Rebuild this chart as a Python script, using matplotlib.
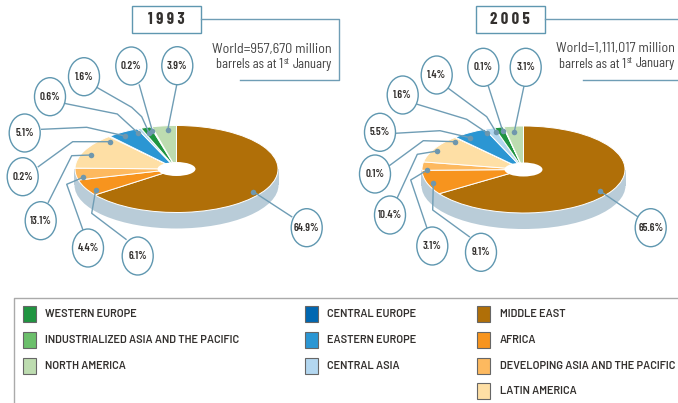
import matplotlib
matplotlib.use('Agg')
import matplotlib.pyplot as plt
from matplotlib.patches import Ellipse, Rectangle

# values, clockwise from 12 o'clock
regions = ['Middle East', 'Africa', 'Developing Asia', 'Latin America', 'Central Europe',
           'Eastern Europe', 'Central Asia', 'Western Europe', 'Industrialized Asia', 'North America']
values_1993 = [64.9, 6.1, 4.4, 13.1, 0.2, 5.1, 0.6, 1.6, 0.2, 3.9]
values_2005 = [65.6, 9.1, 3.1, 10.4, 0.1, 5.5, 1.6, 1.4, 0.1, 3.1]
colors = ['#b06f08', '#f7941e', '#fdb95f', '#fedfa5', '#0067b1',
          '#2b96d3', '#b3d7f0', '#1f9440', '#6bbf6b', '#bddcb0']

legend_labels = [['WESTERN EUROPE', 'INDUSTRIALIZED ASIA AND THE PACIFIC', 'NORTH AMERICA'],
                 ['CENTRAL EUROPE', 'EASTERN EUROPE', 'CENTRAL ASIA'],
                 ['MIDDLE EAST', 'AFRICA', 'DEVELOPING ASIA AND THE PACIFIC', 'LATIN AMERICA']]
legend_colors = [['#1f9440', '#6bbf6b', '#bddcb0'],
                 ['#0067b1', '#2b96d3', '#b3d7f0'],
                 ['#b06f08', '#f7941e', '#fdb95f', '#fedfa5']]

W, H = 678, 403
NARROW = ['Barlow Condensed', 'Liberation Sans', 'DejaVu Sans']
SEMI = ['Barlow Semi Condensed', 'Liberation Sans', 'DejaVu Sans']
WIDE = ['Barlow', 'Liberation Sans', 'DejaVu Sans']
LINE = '#6f9db5'
EDGE = '#5f97b0'
TEXT = '#33302e'

fig = plt.figure(figsize=(W / 100, H / 100), dpi=100)


def draw_pie(values, cx, cy, rx, ry, hole, depth):
    ax = fig.add_axes([(cx - rx) / W, 1 - (cy + ry) / H, 2 * rx / W, 2 * ry / H], zorder=2)
    ax.pie(values, colors=colors, startangle=90, counterclock=False, radius=1,
           wedgeprops={'edgecolor': 'white', 'linewidth': 0.7})
    ax.set_aspect('auto')
    ax.set_xlim(-1, 1)
    ax.set_ylim(-1, 1)
    d = depth / ry
    ax.add_patch(Ellipse((0, -d), 2.01, 2, fc='#b9ccd8', ec='none', zorder=0, clip_on=False))
    ax.add_patch(Rectangle((-1.005, -d), 2.01, d, fc='#b9ccd8', ec='none', zorder=0, clip_on=False))
    ax.add_patch(Ellipse(hole, 38 / rx, 14 / ry, fc='white', ec='none', zorder=5, clip_on=False))


draw_pie(values_1993, 176.5, 169, 101.5, 43.5, (0, 0), 16)
draw_pie(values_2005, 523.5, 169.5, 101.5, 43.5, (0, 0), 16)

# overlay in pixel coordinates
ov = fig.add_axes([0, 0, 1, 1], zorder=3)
ov.set_xlim(0, W)
ov.set_ylim(H, 0)
ov.axis('off')
ov.patch.set_alpha(0)

# bubble centre and leader path (dot first), read in px
bubbles_1993 = [(306.7, 227.7), (137.7, 256), (88, 248), (40.7, 220.7), (22.7, 176.7),
                (24.7, 133), (50, 96.7), (84, 76.7), (131.3, 66), (177.3, 65.7)]
leaders_1993 = [[(253.3, 191.7), (291.7, 216.7)],
                [(95.7, 190), (91.7, 213.3), (126, 239.3)],
                [(83.3, 177.3), (66.7, 184.3), (82.7, 229.3)],
                [(90.7, 155), (71.7, 155.7), (48.3, 202.3)],
                [(110, 141.7), (72.7, 141.7), (38.3, 166.7)],
                [(125, 136), (86.7, 127.3), (41.7, 129.3)],
                [(137.7, 132.7), (117.3, 114), (64, 103.3)],
                [(149, 132.7), (141.7, 116.7), (131.7, 107.3), (96.7, 87.3)],
                [(152.3, 130.7), (139.3, 85)],
                [(167.7, 130), (176.7, 85)]]
bubbles_2005 = [(650.7, 227.7), (481, 252.3), (432.3, 246), (390, 215), (375, 174),
                (380, 132.3), (402.7, 95), (436.7, 75), (483.3, 67.3), (525.7, 67.3)]
leaders_2005 = [[(600, 191), (637.7, 216.7)],
                [(433.3, 183.3), (432.7, 210), (469.3, 236.7)],
                [(427.3, 170), (410.7, 180), (426.7, 227.3)],
                [(437.3, 151), (417.3, 154.3), (397.3, 197.7)],
                [(455, 141.7), (423.3, 140.7), (389.3, 165.7)],
                [(470, 137.7), (440, 130.7), (395, 133.3)],
                [(486.7, 132.7), (466.7, 119.3), (417.3, 104.3)],
                [(496, 132), (486.7, 116.7), (448.3, 88.3)],
                [(502.7, 131), (488.3, 86)],
                [(514.3, 131.7), (524, 86)]]


def draw_callouts(values, bubbles, leaders):
    for v, (bx, by), path in zip(values, bubbles, leaders):
        xs = [p[0] for p in path]
        ys = [p[1] for p in path]
        ov.plot(xs, ys, color=LINE, lw=1, solid_joinstyle='round', zorder=1)
        ov.plot(xs[0], ys[0], 'o', ms=4, color='#6f97ad', mew=0, zorder=2)
        ov.add_patch(Ellipse((bx, by), 31, 38, fc='white', ec=EDGE, lw=1, zorder=3))
        ov.text(bx, by, f'{v}%', ha='center', va='center', fontsize=8, fontweight='semibold',
                family=NARROW, color=TEXT, zorder=4)


draw_callouts(values_1993, bubbles_1993, leaders_1993)
draw_callouts(values_2005, bubbles_2005, leaders_2005)

# title boxes and frames
ov.add_patch(Rectangle((132.3, 5.5), 68.4, 27, fc='white', ec=EDGE, lw=1))
ov.plot([200.7, 338.5, 338.5, 240], [19.3, 19.3, 80, 80], color=LINE, lw=1)
ov.text(166.5, 19.3, '1 9 9 3', ha='center', va='center', fontsize=12, fontweight='bold',
        family=NARROW, color=TEXT)
ov.add_patch(Rectangle((475.7, 5.5), 69, 27, fc='white', ec=EDGE, lw=1))
ov.plot([544.7, 678], [19.3, 19.3], color=LINE, lw=1)
ov.plot([582.7, 678], [80, 80], color=LINE, lw=1)
ov.text(510.2, 19.3, '2 0 0 5', ha='center', va='center', fontsize=12, fontweight='bold',
        family=NARROW, color=TEXT)


def world_note(x, y, world):
    ov.text(x, y, world, ha='right', va='center', fontsize=10.2, family=SEMI, color='#444444')
    # second line goes right to left, so the raised "st" can sit between the parts
    rend = fig.canvas.get_renderer()
    inv = ov.transData.inverted()
    y2 = y + 15.5
    t = ov.text(x, y2, 'January', ha='right', va='center', fontsize=10.2, family=NARROW, color='#444444')
    left = inv.transform(t.get_window_extent(rend).get_points())[0][0]
    t = ov.text(left - 3.5, y2 - 3.5, 'st', ha='right', va='center', fontsize=6.5, family=NARROW, color='#444444')
    left = inv.transform(t.get_window_extent(rend).get_points())[0][0]
    ov.text(left, y2, 'barrels as at 1', ha='right', va='center', fontsize=10.2, family=NARROW, color='#444444')


world_note(332, 49, 'World=957,670 million')
world_note(675, 48.5, 'World=1,111,017 million')

# legend
ov.plot([14, 14, 678], [403, 297.5, 297.5], color='#aaaaaa', lw=1)
col_x = [22.5, 304.5, 477]
row_y = [313.7, 340, 366, 391]
for x, labels, cols in zip(col_x, legend_labels, legend_colors):
    for y, lab, c in zip(row_y, labels, cols):
        ov.add_patch(Rectangle((x, y - 8), 13, 16, fc=c, ec='#666666', lw=0.8))
        ov.text(x + 22.8, y, lab, ha='left', va='center', fontsize=7.9, fontweight='semibold',
                family=WIDE, color=TEXT)

fig.savefig('out.png', dpi=100)
